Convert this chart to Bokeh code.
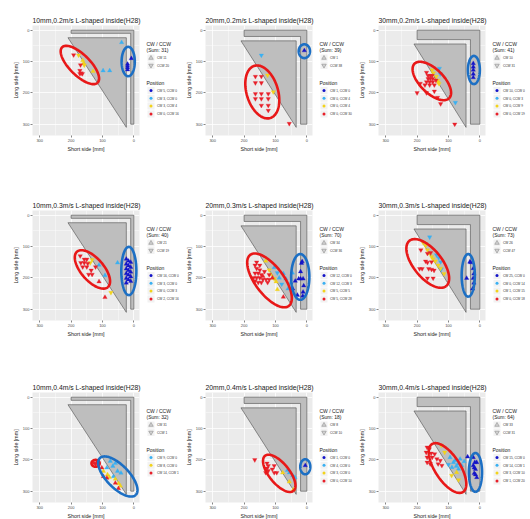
import numpy as np
from bokeh.plotting import figure
from bokeh.models import Range1d, FixedTicker, Label, ColumnDataSource
from bokeh.layouts import column, row
from bokeh.embed import file_html
from bokeh.resources import INLINE

# ---------------- data ----------------
TITLES = ["10mm,0.2m/s L-shaped inside(H28)", "20mm,0.2m/s L-shaped inside(H28)", "30mm,0.2m/s L-shaped inside(H28)",
          "10mm,0.3m/s L-shaped inside(H28)", "20mm,0.3m/s L-shaped inside(H28)", "30mm,0.3m/s L-shaped inside(H28)",
          "10mm,0.4m/s L-shaped inside(H28)", "20mm,0.4m/s L-shaped inside(H28)", "30mm,0.4m/s L-shaped inside(H28)"]
THICKNESS = [10, 20, 30, 10, 20, 30, 10, 20, 30]
TICKS = [0, 100, 200, 300]
MINOR_TICKS = [50, 150, 250]
L_OUTER = 200
L_LENGTH = 300
TRI_LEFT = 210
TRI_BOTTOM = 310
TRI_GAP = 14
POS_COLORS = ["#1414C8", "#3AB0F2", "#F2D31C", "#E8202A"]
ELL_COLORS = {"red": "#E81818", "blue": "#1C6FC4"}

# panel 1
P1_X = [8, 20, 20, 20, 20, 39, 98, 77, 176, 163, 160, 158, 130, 192, 170, 172, 172, 164, 168]
P1_Y = [90, 108, 114, 120, 126, 39, 129, 129, 80, 97, 105, 112, 131, 79, 111, 129, 139, 139, 137]
P1_POS = [0, 0, 0, 0, 0, 1, 1, 1, 2, 2, 2, 2, 2, 3, 3, 3, 3, 3, 3]
P1_ROT = ["CW", "CW", "CW", "CW", "CW", "CW", "CW", "CW", "CCW", "CW", "CW", "CCW", "CW",
          "CCW", "CCW", "CCW", "CCW", "CCW", "CCW"]
P1_ELL = [(172, 111, 80, 33, 135, "red"), (18, 100, 47, 21, 90, "blue")]
P1_SUM = 31
P1_ROT_LABELS = ["CW 11", "CCW 20"]
P1_POS_GROUPS = [0, 1, 2, 3]
P1_POS_LABELS = ["CW 5, CCW 0", "CW 3, CCW 0", "CW 3, CCW 4", "CW 0, CCW 16"]

# panel 2
P2_X = [8, 145, 125, 107, 164, 145, 164, 145, 164, 145, 123, 164, 145, 123, 145, 123, 123, 56]
P2_Y = [65, 80, 144, 197, 148, 148, 168, 168, 203, 203, 203, 219, 219, 219, 240, 240, 256, 298]
P2_POS = [0, 1, 2, 2, 3, 3, 3, 3, 3, 3, 3, 3, 3, 3, 3, 3, 3, 3]
P2_ROT = ["CW", "CCW", "CCW", "CCW", "CCW", "CCW", "CCW", "CCW", "CCW", "CCW", "CCW", "CCW",
          "CCW", "CCW", "CCW", "CCW", "CCW", "CCW"]
P2_ELL = [(142, 197, 87, 50, 107, "red"), (8, 67, 22, 18, 90, "blue")]
P2_SUM = 39
P2_ROT_LABELS = ["CW 1", "CCW 38"]
P2_POS_GROUPS = [0, 1, 2, 3]
P2_POS_LABELS = ["CW 1, CCW 0", "CW 0, CCW 4", "CW 0, CCW 4", "CW 0, CCW 30"]

# panel 3
P3_X = [21, 21, 21, 21, 21, 129, 126, 78, 152, 148, 139, 135, 133, 130,
        170, 165, 158, 152, 165, 158, 150, 170, 160, 150, 140, 190, 175, 160, 145, 200, 170, 145, 135, 125, 80]
P3_Y = [106, 117, 127, 140, 151, 122, 140, 231, 127, 137, 148, 160, 166, 171,
        135, 145, 145, 145, 155, 155, 155, 165, 165, 165, 160, 170, 175, 175, 175, 200, 200, 195, 215, 235, 300]
P3_POS = [0, 0, 0, 0, 0, 1, 1, 1, 2, 2, 2, 2, 2, 2,
          3, 3, 3, 3, 3, 3, 3, 3, 3, 3, 3, 3, 3, 3, 3, 3, 3, 3, 3, 3, 3]
P3_ROT = ["CW", "CW", "CW", "CW", "CW", "CCW", "CCW", "CCW", "CCW", "CCW", "CCW", "CCW", "CCW", "CCW",
          "CCW", "CCW", "CCW", "CCW", "CCW", "CCW", "CCW", "CCW", "CCW", "CCW", "CCW", "CCW", "CCW",
          "CCW", "CCW", "CCW", "CCW", "CCW", "CCW", "CCW", "CCW"]
P3_ELL = [(153, 162, 78, 38, 135, "red"), (19, 127, 45, 19, 90, "blue")]
P3_SUM = 41
P3_ROT_LABELS = ["CW 10", "CCW 31"]
P3_POS_GROUPS = [0, 1, 2, 3]
P3_POS_LABELS = ["CW 10, CCW 0", "CW 0, CCW 3", "CW 0, CCW 9", "CW 0, CCW 19"]

# panel 4
P4_X = [24, 17, 10, 24, 17, 10, 24, 17, 10, 24, 17, 10, 24, 17, 10, 24, 52, 111, 92, 139, 133, 73,
        171, 158, 150, 169, 158, 147, 163, 150, 136, 144, 133, 122, 111, 92]
P4_Y = [140, 146, 150, 156, 161, 166, 171, 176, 181, 186, 191, 196, 201, 206, 211, 216, 152, 159, 192, 152, 142, 247,
        130, 141, 141, 152, 152, 154, 165, 165, 176, 189, 189, 165, 212, 262]
P4_POS = [0, 0, 0, 0, 0, 0, 0, 0, 0, 0, 0, 0, 0, 0, 0, 0, 1, 1, 1, 2, 2, 2,
          3, 3, 3, 3, 3, 3, 3, 3, 3, 3, 3, 3, 3, 3]
P4_ROT = ["CW", "CW", "CW", "CW", "CW", "CW", "CW", "CW", "CW", "CW", "CW", "CW", "CW", "CW", "CW", "CW",
          "CW", "CW", "CW", "CCW", "CCW", "CCW", "CCW", "CCW", "CCW", "CCW", "CCW", "CCW", "CCW", "CCW",
          "CCW", "CCW", "CCW", "CCW", "CW", "CW"]
P4_ELL = [(132, 173, 75, 36, 131, "red"), (16, 178, 77, 24, 90, "blue")]
P4_SUM = 40
P4_ROT_LABELS = ["CW 21", "CCW 19"]
P4_POS_GROUPS = [0, 1, 2, 3]
P4_POS_LABELS = ["CW 16, CCW 0", "CW 3, CCW 0", "CW 0, CCW 3", "CW 2, CCW 16"]

# panel 5
P5_X = [15, 17, 12, 20, 26, 10, 12, 30, 37, 45, 20, 13,
        104, 94, 75, 67, 51, 46, 80, 60, 88,
        131, 115, 104, 98, 94, 120, 108,
        165, 160, 150, 165, 155, 145, 170, 160, 150, 140, 130, 120, 155, 145, 125, 160, 150, 135, 120, 165,
        75, 140, 110]
P5_Y = [148, 153, 203, 203, 203, 225, 245, 255, 210, 235, 180, 258,
        167, 184, 186, 203, 216, 184, 220, 235, 200,
        146, 189, 203, 212, 237, 175, 200,
        160, 170, 175, 185, 185, 190, 200, 200, 200, 205, 205, 205, 215, 215, 215, 150, 160, 180, 190, 210,
        261, 195, 200]
P5_POS = [0, 0, 0, 0, 0, 0, 0, 0, 0, 0, 0, 0,
          1, 1, 1, 1, 1, 1, 1, 1, 1,
          2, 2, 2, 2, 2, 2, 2,
          3, 3, 3, 3, 3, 3, 3, 3, 3, 3, 3, 3, 3, 3, 3, 3, 3, 3, 3, 3,
          3, 3, 3]
P5_ROT = ["CW", "CW", "CW", "CW", "CW", "CW", "CW", "CW", "CW", "CW", "CW", "CW",
          "CW", "CCW", "CW", "CW", "CW", "CW", "CCW", "CW", "CW",
          "CW", "CW", "CCW", "CW", "CW", "CCW", "CW",
          "CCW", "CCW", "CCW", "CCW", "CCW", "CCW", "CCW", "CCW", "CCW", "CCW", "CCW", "CCW", "CCW", "CCW",
          "CCW", "CCW", "CCW", "CCW", "CCW", "CCW",
          "CW", "CW", "CW"]
P5_ELL = [(119, 208, 102, 45, 127, "red"), (21, 197, 73, 29, 90, "blue")]
P5_SUM = 70
P5_ROT_LABELS = ["CW 34", "CCW 36"]
P5_POS_GROUPS = [0, 1, 2, 3]
P5_POS_LABELS = ["CW 12, CCW 0", "CW 12, CCW 3", "CW 5, CCW 5", "CW 5, CCW 28"]

# panel 6
P6_X = [32, 29, 42, 21, 19, 21, 19, 23,
        160, 138, 131, 125, 123,
        181, 173, 167, 160, 154, 149, 142, 133, 125, 114,
        188, 167, 157, 173, 167, 154, 192, 184, 163, 154, 146, 167, 149]
P6_Y = [149, 151, 201, 170, 187, 201, 216, 235,
        70, 127, 136, 149, 172,
        87, 97, 111, 122, 133, 140, 147, 160, 170, 187,
        111, 122, 120, 147, 151, 149, 171, 171, 171, 173, 176, 201, 201]
P6_POS = [0, 0, 0, 0, 0, 0, 0, 0,
          1, 1, 1, 1, 1,
          2, 2, 2, 2, 2, 2, 2, 2, 2, 2,
          3, 3, 3, 3, 3, 3, 3, 3, 3, 3, 3, 3, 3]
P6_ROT = ["CW", "CW", "CW", "CW", "CW", "CW", "CW", "CW",
          "CCW", "CCW", "CCW", "CCW", "CCW",
          "CCW", "CCW", "CCW", "CW", "CCW", "CCW", "CCW", "CCW", "CCW", "CCW",
          "CCW", "CCW", "CCW", "CCW", "CCW", "CCW", "CCW", "CCW", "CCW", "CCW", "CCW", "CCW", "CCW"]
P6_ELL = [(166, 154, 93, 45, 129, "red"), (37, 192, 68, 21, 90, "blue")]
P6_SUM = 73
P6_ROT_LABELS = ["CW 26", "CCW 47"]
P6_POS_GROUPS = [0, 1, 2, 3]
P6_POS_LABELS = ["CW 25, CCW 0", "CW 0, CCW 14", "CW 1, CCW 15", "CW 0, CCW 18"]

# panel 7
P7_X = [75, 67, 59, 52, 41, 86, 65, 97, 84, 78, 59, 49, 43, 127, 118, 102, 97, 86, 59, 49, 122]
P7_Y = [204, 220, 211, 236, 242, 225, 253, 236, 247, 255, 261, 275, 283, 211, 207, 225, 253, 258, 274, 291, 214]
P7_POS = [1, 1, 1, 1, 1, 1, 1, 2, 2, 2, 2, 2, 2, 3, 3, 3, 3, 3, 3, 3, 3]
P7_ROT = ["CW", "CW", "CW", "CW", "CW", "CW", "CW", "CW", "CW", "CW", "CW", "CW", "CW",
          "CW", "CW", "CW", "CW", "CW", "CW", "CW", "CCW"]
P7_ELL = [(122, 211, 13, 11, 0, "red"), (51, 253, 82, 36, 134, "blue")]
P7_SUM = 32
P7_ROT_LABELS = ["CW 31", "CCW 1"]
P7_POS_GROUPS = [1, 2, 3]
P7_POS_LABELS = ["CW 9, CCW 0", "CW 8, CCW 0", "CW 14, CCW 1"]

# panel 8
P8_X = [5, 56, 38, 62, 45, 77, 56, 43, 166, 127, 123, 127, 123, 131, 104, 104, 96, 110]
P8_Y = [218, 241, 256, 233, 250, 241, 270, 295, 200, 211, 219, 227, 235, 241, 219, 241, 241, 230]
P8_POS = [0, 1, 1, 1, 1, 2, 2, 2, 3, 3, 3, 3, 3, 3, 3, 3, 3, 3]
P8_ROT = ["CW", "CW", "CW", "CW", "CW", "CW", "CW", "CW",
          "CCW", "CCW", "CCW", "CCW", "CCW", "CCW", "CCW", "CCW", "CCW", "CCW"]
P8_ELL = [(88, 243, 72, 32, 129, "red"), (5, 222, 24, 16, 90, "blue")]
P8_SUM = 18
P8_ROT_LABELS = ["CW 8", "CCW 10"]
P8_POS_GROUPS = [0, 1, 2, 3]
P8_POS_LABELS = ["CW 1, CCW 0", "CW 4, CCW 0", "CW 3, CCW 0", "CW 0, CCW 10"]

# panel 9
P9_X = [39, 21, 16, 10, 21, 18, 14, 10, 14, 18,
        95, 84, 79, 70, 63, 58, 68, 89, 75, 50, 100,
        123, 112, 74, 68, 90,
        168, 161, 171, 155, 144, 168, 152, 137, 126, 168, 158, 133, 121]
P9_Y = [190, 192, 208, 208, 218, 243, 247, 256, 230, 225,
        192, 208, 202, 213, 197, 218, 229, 224, 220, 205, 215,
        154, 176, 240, 264, 250,
        160, 165, 176, 179, 181, 192, 192, 197, 202, 208, 213, 213, 218]
P9_POS = [0, 0, 0, 0, 0, 0, 0, 0, 0, 0,
          1, 1, 1, 1, 1, 1, 1, 1, 1, 1, 1,
          2, 2, 2, 2, 2,
          3, 3, 3, 3, 3, 3, 3, 3, 3, 3, 3, 3, 3]
P9_ROT = ["CW", "CW", "CW", "CW", "CW", "CW", "CW", "CW", "CW", "CW",
          "CW", "CW", "CW", "CW", "CW", "CW", "CW", "CW", "CW", "CW", "CCW",
          "CCW", "CCW", "CW", "CCW", "CCW",
          "CCW", "CCW", "CCW", "CCW", "CCW", "CCW", "CCW", "CCW", "CCW", "CCW", "CCW", "CCW", "CCW"]
P9_ELL = [(103, 226, 91, 40, 123, "red"), (14, 240, 62, 21, 90, "blue")]
P9_SUM = 64
P9_ROT_LABELS = ["CW 33", "CCW 31"]
P9_POS_GROUPS = [0, 1, 2, 3]
P9_POS_LABELS = ["CW 15, CCW 0", "CW 14, CCW 1", "CW 3, CCW 10", "CW 1, CCW 20"]

PANELS = [
    dict(x=P1_X, y=P1_Y, pos=P1_POS, rot=P1_ROT, ell=P1_ELL, total=P1_SUM, rl=P1_ROT_LABELS, pg=P1_POS_GROUPS, pl=P1_POS_LABELS),
    dict(x=P2_X, y=P2_Y, pos=P2_POS, rot=P2_ROT, ell=P2_ELL, total=P2_SUM, rl=P2_ROT_LABELS, pg=P2_POS_GROUPS, pl=P2_POS_LABELS),
    dict(x=P3_X, y=P3_Y, pos=P3_POS, rot=P3_ROT, ell=P3_ELL, total=P3_SUM, rl=P3_ROT_LABELS, pg=P3_POS_GROUPS, pl=P3_POS_LABELS),
    dict(x=P4_X, y=P4_Y, pos=P4_POS, rot=P4_ROT, ell=P4_ELL, total=P4_SUM, rl=P4_ROT_LABELS, pg=P4_POS_GROUPS, pl=P4_POS_LABELS),
    dict(x=P5_X, y=P5_Y, pos=P5_POS, rot=P5_ROT, ell=P5_ELL, total=P5_SUM, rl=P5_ROT_LABELS, pg=P5_POS_GROUPS, pl=P5_POS_LABELS),
    dict(x=P6_X, y=P6_Y, pos=P6_POS, rot=P6_ROT, ell=P6_ELL, total=P6_SUM, rl=P6_ROT_LABELS, pg=P6_POS_GROUPS, pl=P6_POS_LABELS),
    dict(x=P7_X, y=P7_Y, pos=P7_POS, rot=P7_ROT, ell=P7_ELL, total=P7_SUM, rl=P7_ROT_LABELS, pg=P7_POS_GROUPS, pl=P7_POS_LABELS),
    dict(x=P8_X, y=P8_Y, pos=P8_POS, rot=P8_ROT, ell=P8_ELL, total=P8_SUM, rl=P8_ROT_LABELS, pg=P8_POS_GROUPS, pl=P8_POS_LABELS),
    dict(x=P9_X, y=P9_Y, pos=P9_POS, rot=P9_ROT, ell=P9_ELL, total=P9_SUM, rl=P9_ROT_LABELS, pg=P9_POS_GROUPS, pl=P9_POS_LABELS),
]

# ---------------- layout / style ----------------
FONT = "Liberation Sans"
FW, FH = 107, 110
LEFT_BORDER = [32, 24, 24]
PLOT_RIGHT = 6
LEGEND_W = [36, 36, 38]
TOP_BORDER = [25, 35, 32]
BOTTOM_BORDER = [40, 40, 15]
X_LIM = (323, -18)
Y_LIM = (336, -15)


def make_panel(i):
    d = PANELS[i]
    r, c = divmod(i, 3)
    t = THICKNESS[i]
    p = figure(frame_width=FW, frame_height=FH, x_range=Range1d(*X_LIM), y_range=Range1d(*Y_LIM),
               output_backend="svg", toolbar_location=None,
               min_border_left=LEFT_BORDER[c], min_border_right=PLOT_RIGHT,
               min_border_top=TOP_BORDER[r], min_border_bottom=BOTTOM_BORDER[r])
    p.background_fill_color = "#EBEBEB"
    p.border_fill_color = "white"
    p.outline_line_color = None
    p.title.text = TITLES[i]
    p.title.text_font = FONT
    p.title.text_font_size = "6.8px"
    p.title.text_font_style = "normal"
    p.title.text_color = "#1A1A1A"
    p.title.align = "left"
    p.title.standoff = 2.5

    ticker = FixedTicker(ticks=TICKS, minor_ticks=MINOR_TICKS)
    for ax, lab in ((p.xaxis[0], "Short side [mm]"), (p.yaxis[0], "Long side [mm]")):
        ax.ticker = ticker
        ax.axis_label = lab
        ax.axis_line_color = None
        ax.major_tick_line_color = "#333333"
        ax.major_tick_line_width = 0.6
        ax.major_tick_out = 2
        ax.major_tick_in = 0
        ax.minor_tick_out = 0
        ax.minor_tick_in = 0
        ax.major_label_text_font = FONT
        ax.major_label_text_font_size = "4px"
        ax.major_label_text_color = "#4D4D4D"
        ax.major_label_standoff = 1
        ax.axis_label_text_font = FONT
        ax.axis_label_text_font_size = "5.3px"
        ax.axis_label_text_font_style = "normal"
        ax.axis_label_text_color = "#1A1A1A"
        ax.axis_label_standoff = 1
    for g in (p.xgrid[0], p.ygrid[0]):
        g.ticker = ticker
        g.grid_line_color = "white"
        g.grid_line_width = 0.8
        g.minor_grid_line_color = "white"
        g.minor_grid_line_width = 0.4

    # L-shaped wall and triangular block
    lx = [L_OUTER, 0, 0, t, t, L_OUTER]
    ly = [0, 0, L_LENGTH, L_LENGTH, t, t]
    p.patch(lx, ly, fill_color="#BEBEBE", line_color="#4D4D4D", line_width=0.6)
    g0 = t + TRI_GAP
    p.patch([TRI_LEFT, g0, g0], [g0, g0, TRI_BOTTOM], fill_color="#BEBEBE", line_color="#4D4D4D", line_width=0.6)

    # points
    src = ColumnDataSource(dict(
        x=d["x"], y=d["y"],
        color=[POS_COLORS[k] for k in d["pos"]],
        marker=["triangle" if s == "CW" else "inverted_triangle" for s in d["rot"]],
    ))
    p.scatter("x", "y", source=src, marker="marker", size=4.4, fill_color="color", line_color="color", line_width=0.3)

    # ellipses
    th = np.linspace(0, 2 * np.pi, 120)
    for (cx, cy, a, b, ang, col) in d["ell"]:
        rad = np.deg2rad(ang)
        ex = cx + a * np.cos(th) * np.cos(rad) - b * np.sin(th) * np.sin(rad)
        ey = cy + a * np.cos(th) * np.sin(rad) + b * np.sin(th) * np.cos(rad)
        p.line(ex, ey, line_color=ELL_COLORS[col], line_width=2.6)
    return p


def make_legend(i):
    d = PANELS[i]
    r, c = divmod(i, 3)
    w = LEGEND_W[c]
    lp = figure(frame_width=w, frame_height=FH, x_range=Range1d(0, w), y_range=Range1d(0, FH),
                output_backend="svg", toolbar_location=None,
                min_border_left=0, min_border_right=0,
                min_border_top=TOP_BORDER[r], min_border_bottom=BOTTOM_BORDER[r],
                x_axis_location=None, y_axis_location=None)
    lp.grid.visible = False
    lp.outline_line_color = None
    lp.background_fill_color = "white"
    lp.border_fill_color = "white"

    def yy(dy):
        return FH - dy

    def txt(x, dy, text, size, color="#1A1A1A"):
        lp.add_layout(Label(x=x, y=yy(dy), text=text, text_font=FONT, text_font_size=size,
                            text_color=color, text_align="left", text_baseline="middle"))

    x0 = 7 - PLOT_RIGHT
    gx, tx = x0 + 4.5, x0 + 10.5
    txt(x0, 18.5, "CW / CCW", "5px")
    txt(x0, 24.2, "(Sum: %d)" % d["total"], "5px")
    rot_dy = [32.5, 40]
    lp.scatter([gx, gx], [yy(v) for v in rot_dy], marker="square", size=7, fill_color="#F2F2F2", line_color=None)
    lp.scatter([gx], [yy(rot_dy[0])], marker="triangle", size=4.5, fill_color="#D0D0D0", line_color="#7F7F7F", line_width=0.5)
    lp.scatter([gx], [yy(rot_dy[1])], marker="inverted_triangle", size=4.5, fill_color="#D0D0D0", line_color="#7F7F7F", line_width=0.5)
    for dy, lab in zip(rot_dy, d["rl"]):
        txt(tx, dy, lab, "3.2px", "#333333")
    txt(x0, 57.5, "Position", "5px")
    pos_dy = [65 + 7.8 * k for k in range(len(d["pg"]))]
    lp.scatter([gx] * len(pos_dy), [yy(v) for v in pos_dy], marker="square", size=7, fill_color="#F2F2F2", line_color=None)
    lp.scatter([gx] * len(pos_dy), [yy(v) for v in pos_dy], marker="circle", size=3,
               fill_color=[POS_COLORS[g] for g in d["pg"]], line_color=None)
    for dy, lab in zip(pos_dy, d["pl"]):
        txt(tx, dy, lab, "3.2px", "#333333")
    return lp


rows = []
for r in range(3):
    items = []
    for c in range(3):
        i = 3 * r + c
        items.append(make_panel(i))
        items.append(make_legend(i))
    rows.append(row(*items))
layout = column(*rows)

open("out.html", "w").write(file_html(layout, INLINE))
